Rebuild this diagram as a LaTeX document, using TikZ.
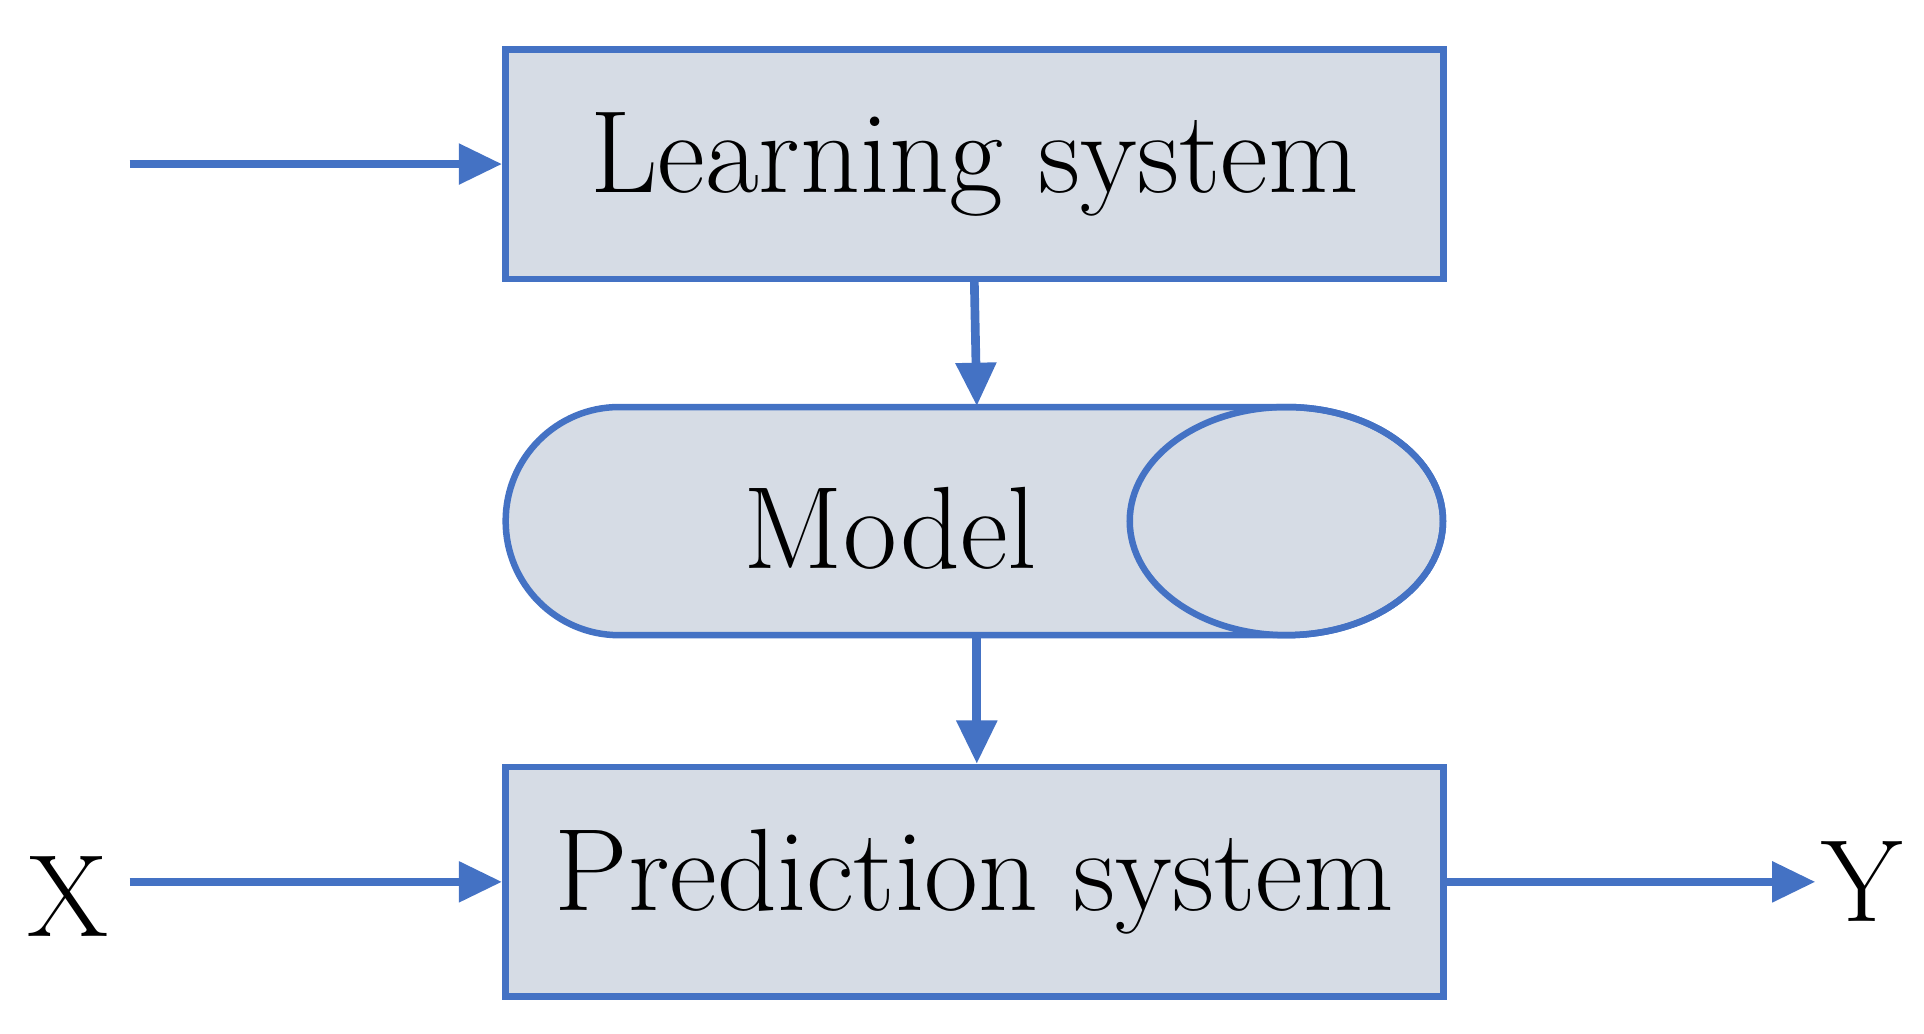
\documentclass[tikz,border=0pt]{standalone}
\usetikzlibrary{arrows.meta}
\definecolor{fillc}{HTML}{D6DCE5}
\definecolor{linec}{HTML}{4472C4}
\begin{document}
\begin{tikzpicture}[x=0.01cm,y=-0.01cm,
  box/.style={draw=linec,line width=1.5pt,fill=fillc,minimum width=7.6cm,minimum height=1.86cm,inner sep=0pt,font=\fontsize{27}{30}\selectfont},
  arr/.style={draw=linec,line width=2pt,-{Triangle[length=10pt,width=9pt]}},
  lab/.style={font=\fontsize{27}{30}\selectfont}]
\useasboundingbox (0,0) rectangle (1560,838);
\node[box] (learn) at (790,133) {Learning system};
\node[box] (pred) at (790,715) {Prediction system};
\filldraw[draw=linec,fill=fillc,line width=1.5pt]
  (502,330) -- (1043,330) arc[start angle=90,end angle=-90,x radius=127,y radius=-92.5]
  -- (502,515) arc[start angle=270,end angle=90,x radius=92,y radius=-92.5] -- cycle;
\draw[linec,line width=1.5pt] (1043,422.5) ellipse[x radius=127,y radius=92.5];
\node[inner sep=0pt,minimum width=7.6cm,minimum height=1.85cm] (model) at (790,422.5) {};
\node[lab] (mtext) at (722,428) {Model};
\coordinate (in1) at (105,133);
\coordinate (inx) at (105,715);
\node[lab] (x) at (55,727) {X};
\node[lab] (y) at (1510,715) {Y};
\draw[arr] (in1) -- (learn.west);
\draw[arr] (learn.south -| 790,0) -- (model.north -| 792,0);
\draw[arr] (model.south -| 792,0) -- (pred.north -| 792,0);
\draw[arr] (inx) -- (pred.west);
\draw[arr] (pred.east) -- (1472,715);
\end{tikzpicture}
\end{document}
